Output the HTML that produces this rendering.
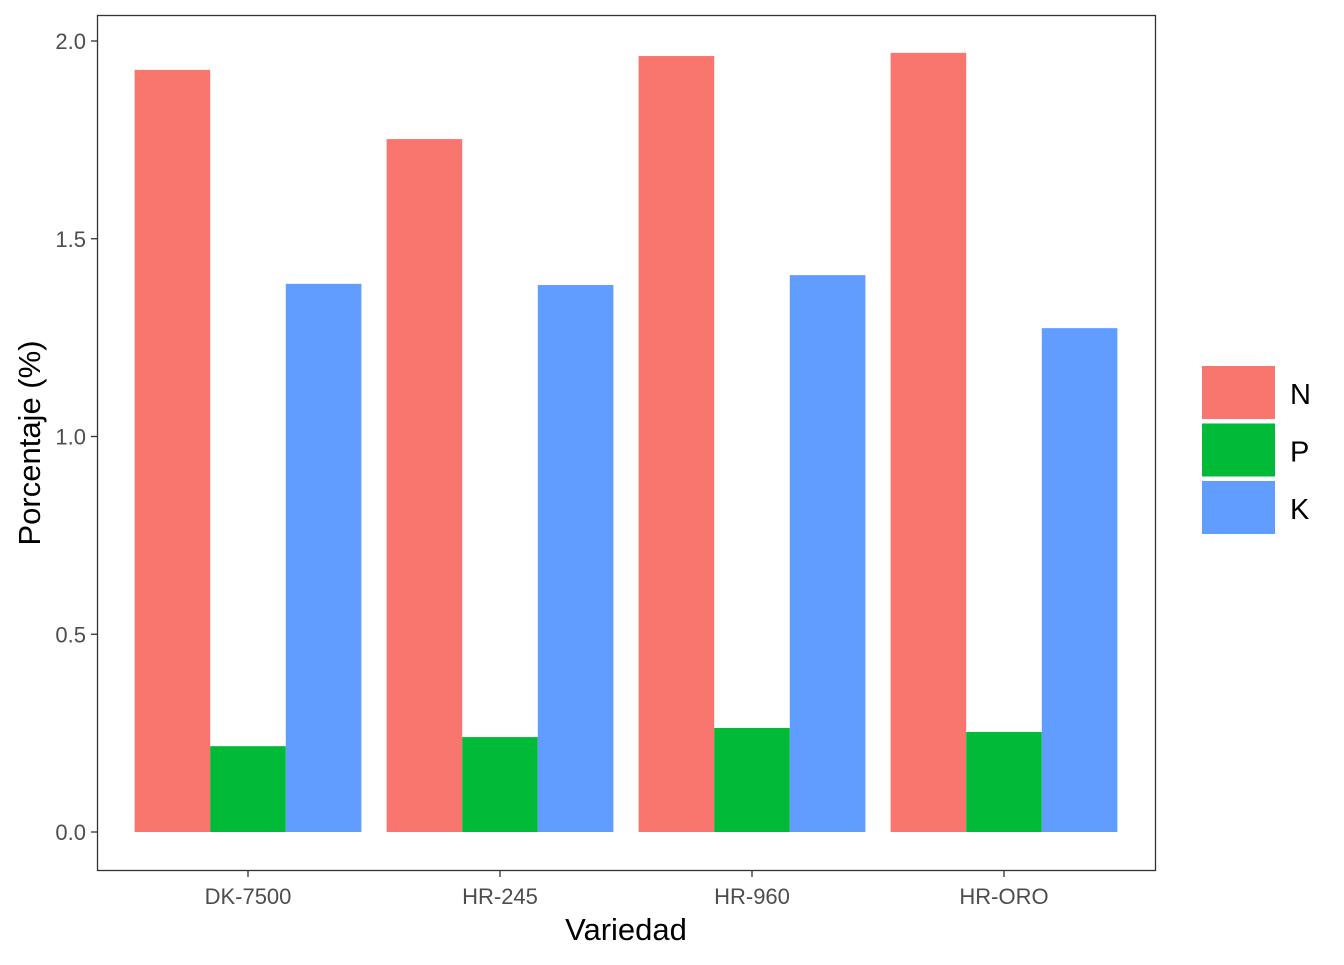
<!DOCTYPE html>
<html><head><meta charset="utf-8"><style>
body{margin:0;background:#fff;}
svg{font-family:"Liberation Sans",Arial,sans-serif;}
</style></head><body>
<svg id="chart" width="1344" height="960" xmlns="http://www.w3.org/2000/svg">
<rect x="0" y="0" width="1344" height="960" fill="#fff"/>
<g id="bars"></g>
<g id="axes"></g>
<rect x="97.5" y="15.5" width="1058" height="855" fill="none" stroke="#333" stroke-width="1.3"/>
<text x="626" y="940" font-size="31" text-anchor="middle" fill="#000">Variedad</text>
<text transform="translate(40,443) rotate(-90)" font-size="31" text-anchor="middle" fill="#000">Porcentaje (%)</text>
<g id="legend"></g>
</svg>
<script>
const categories=["DK-7500","HR-245","HR-960","HR-ORO"];
const seriesNames=["N","P","K"];
const seriesColors=["#F8766D","#00BA38","#619CFF"];
const nValues=[1.927,1.752,1.962,1.970];
const pValues=[0.217,0.240,0.263,0.253];
const kValues=[1.386,1.383,1.408,1.274];
const yTicks=[0,0.5,1.0,1.5,2.0];
const yTickLabels=["0.0","0.5","1.0","1.5","2.0"];

const NS="http://www.w3.org/2000/svg";
const y0=832,ypx=395.5;
function yScale(v){return y0-v*ypx;}
const step=252,x0=248;
function xScale(i){return x0+i*step;}
const groupW=0.9*step,barW=groupW/3;
function mk(tag,attrs,parent){const e=document.createElementNS(NS,tag);for(const k in attrs)e.setAttribute(k,attrs[k]);parent.appendChild(e);return e;}
const bars=document.getElementById('bars');
const allSeries=[nValues,pValues,kValues];
allSeries.forEach((vals,s)=>{
  vals.forEach((v,i)=>{
    const x=xScale(i)-groupW/2+s*barW;
    const r=mk('rect',{x:x,y:yScale(v),width:barW,height:yScale(0)-yScale(v),fill:seriesColors[s]},bars);
    
    
  });
});
const axes=document.getElementById('axes');
yTicks.forEach((t,i)=>{
  const y=yScale(t);
  const l=mk('line',{x1:91,x2:97,y1:y,y2:y,stroke:'#333','stroke-width':1.3},axes);
  
  
  const tx=mk('text',{x:86,y:y+8,'font-size':22,'text-anchor':'end',fill:'#4d4d4d'},axes);
  tx.textContent=yTickLabels[i];
  
  
});
categories.forEach((c,i)=>{
  const x=xScale(i);
  const l=mk('line',{x1:x,x2:x,y1:871,y2:877,stroke:'#333','stroke-width':1.3},axes);
  
  
  const tx=mk('text',{x:x,y:904,'font-size':22,'text-anchor':'middle',fill:'#4d4d4d'},axes);
  tx.textContent=c;
  
  
});
const legend=document.getElementById('legend');
seriesNames.forEach((n,s)=>{
  const y=366+s*57.5;
  const r=mk('rect',{x:1202,y:y,width:73,height:53,fill:seriesColors[s]},legend);
  
  
  const tx=mk('text',{x:1290,y:y+38,'font-size':29,fill:'#000'},legend);
  tx.textContent=n;
  
  
});
</script>
</body></html>
